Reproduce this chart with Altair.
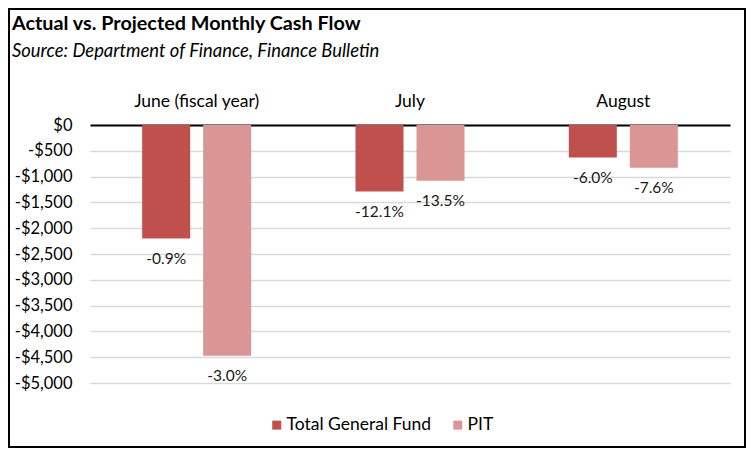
import altair as alt
import pandas as pd

months = ["June (fiscal year)", "July", "August"]
series = ["Total General Fund", "PIT"]
tgf = [-2200, -1290, -630]
pit = [-4470, -1080, -830]
tgf_pct = ["-0.9%", "-12.1%", "-6.0%"]
pit_pct = ["-3.0%", "-13.5%", "-7.6%"]
colors = ["#C0504D", "#D99694"]
y_ticks = list(range(-5000, 1, 500))

rows = []
for i, m in enumerate(months):
    rows.append({"month": m, "series": series[0], "value": tgf[i], "pct": tgf_pct[i]})
    rows.append({"month": m, "series": series[1], "value": pit[i], "pct": pit_pct[i]})
df = pd.DataFrame(rows)

FONT = "Lato"
W, H = 640, 258

x_enc = alt.X("month:N", sort=months,
              scale=alt.Scale(paddingInner=0, paddingOuter=0),
              axis=alt.Axis(orient="top", title=None, labelAngle=0, ticks=False, tickSize=0,
                            labelPadding=19, labelBaseline="alphabetic", labelFontSize=17.5,
                            labelColor="#000000", domainColor="#000000", domainWidth=2,
                            labelFont=FONT))
xoff = alt.XOffset("series:N", sort=series,
                   scale=alt.Scale(paddingInner=0.213, paddingOuter=0.855))
y_enc = alt.Y("value:Q", scale=alt.Scale(domain=[-5000, 0], nice=False),
              axis=alt.Axis(title=None, values=y_ticks, domain=False, ticks=False, tickSize=0,
                            labelPadding=18, labelFontSize=16.5, labelColor="#000000",
                            labelFont=FONT, gridColor="#D9D9D9", gridWidth=1.5,
                            labelOverlap=False, labelBaseline="middle",
                            labelExpr="datum.value < 0 ? '-$' + format(-datum.value, ',') : '$0'"))

base = alt.Chart(df).encode(x=x_enc, xOffset=xoff, y=y_enc)

bars = base.mark_bar().encode(
    color=alt.Color("series:N", sort=series,
                    scale=alt.Scale(domain=series, range=colors),
                    legend=alt.Legend(title=None, orient="none", legendX=178, legendY=291,
                                      direction="horizontal", symbolType="square",
                                      symbolSize=81, symbolStrokeWidth=0, labelFontSize=17.5,
                                      labelFont=FONT, labelColor="#000000", labelOffset=1,
                                      columnPadding=17, padding=0)),
)

labels = base.mark_text(baseline="middle", align="center", dy=20, fontSize=15.5,
                        font=FONT, color="#1A1A1A").encode(text="pct:N")

dummy = alt.Chart(alt.Data(values=[{"a": 1}]))
title = dummy.mark_text(text="Actual vs. Projected Monthly Cash Flow", align="left",
                        baseline="alphabetic", fontSize=19.8, fontWeight="bold",
                        font=FONT, color="#000000").encode(
    x=alt.value(-78), y=alt.value(-95))
subtitle = dummy.mark_text(text="Source:  Department of Finance, Finance Bulletin",
                           align="left", baseline="alphabetic", fontSize=18.4,
                           fontStyle="italic", font=FONT, color="#000000").encode(
    x=alt.value(-78), y=alt.value(-68))
border = dummy.mark_rect(fillOpacity=0, stroke="#000000", strokeWidth=2).encode(
    x=alt.value(-81), x2=alt.value(655), y=alt.value(-116), y2=alt.value(322))

chart = alt.layer(bars, labels, title, subtitle, border).properties(
    width=W, height=H,
    autosize=alt.AutoSizeParams(type="none"),
    padding={"left": 82, "top": 117, "right": 16, "bottom": 65},
    background="#FFFFFF",
).configure_view(stroke=None)

chart.save("out.html", embed_options={"renderer": "svg", "actions": False})
